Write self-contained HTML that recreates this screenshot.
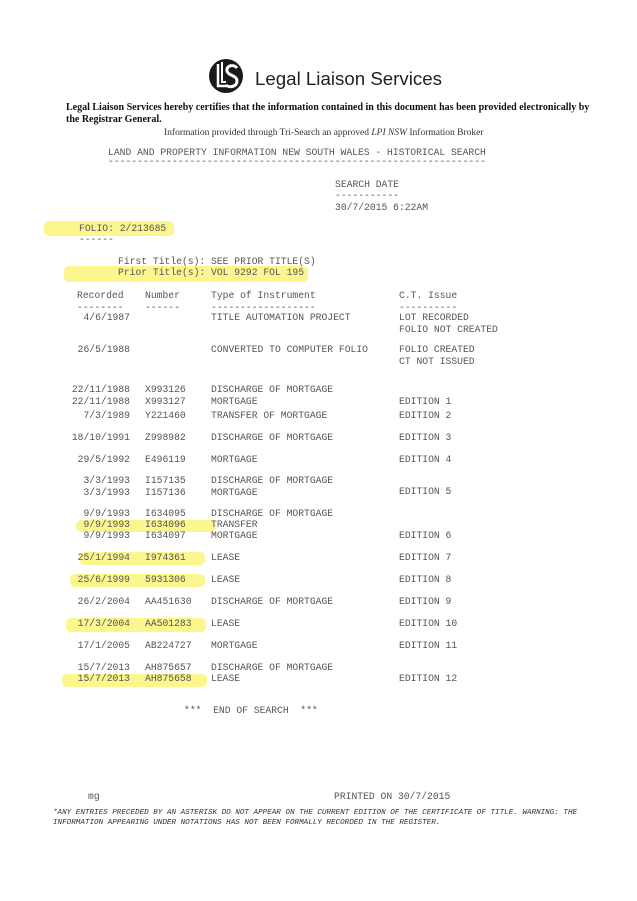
<!DOCTYPE html>
<html><head><meta charset="utf-8"><style>
html,body{margin:0;padding:0;background:#fff;}
body{width:637px;height:901px;position:relative;overflow:hidden;}
.m{position:absolute;font-family:"Liberation Mono",monospace;font-size:9.7px;line-height:12px;color:#555;white-space:pre;}
.r{text-align:right;}
.h{position:absolute;background:#fbf47a;opacity:.85;border-radius:5px;}
.s{position:absolute;font-family:"Liberation Serif",serif;color:#111;white-space:pre;}
</style></head><body>
<!-- highlights -->
<div class="h" style="left:44px;top:221px;width:130px;height:15px"></div>
<div class="h" style="left:64px;top:266px;width:244px;height:16px"></div>
<div class="h" style="left:76px;top:520px;width:140px;height:12px"></div>
<div class="h" style="left:80px;top:552px;width:125px;height:13px"></div>
<div class="h" style="left:70px;top:574px;width:135px;height:13px"></div>
<div class="h" style="left:66px;top:618px;width:140px;height:14px"></div>
<div class="h" style="left:62px;top:674px;width:145px;height:13px"></div>

<!-- logo -->
<svg style="position:absolute;left:206px;top:58px" width="40" height="36" viewBox="0 0 40 36">
<circle cx="20" cy="18" r="17" fill="#1a1a1a"/>
<path d="M12 6 V28 H22" stroke="#fff" stroke-width="2.5" fill="none"/>
<path d="M16 4 V24 H20" stroke="#fff" stroke-width="2" fill="none"/>
<path d="M31 10 C28 6 20 7 21 13 C22 18 31 17 31 23 C31 29 23 30 20 27" stroke="#fff" stroke-width="3" fill="none"/>
</svg>
<div style="position:absolute;left:255px;top:67px;font-family:'Liberation Sans',sans-serif;font-size:18.7px;line-height:24px;color:#222;">Legal Liaison Services</div>

<div class="s" style="left:66px;top:102px;font-size:10px;font-weight:bold;line-height:12px">Legal Liaison Services hereby certifies that the information contained in this document has been provided electronically by
the Registrar General.</div>
<div class="s" style="left:164px;top:127px;font-size:9.5px;line-height:12px;color:#333">Information provided through Tri-Search an approved <i>LPI NSW</i> Information Broker</div>

<div class="m" style="left:108px;top:147px">LAND AND PROPERTY INFORMATION NEW SOUTH WALES - HISTORICAL SEARCH</div>
<div class="m" style="left:108px;top:156px">-----------------------------------------------------------------</div>

<div class="m" style="left:335px;top:179px">SEARCH DATE</div>
<div class="m" style="left:335px;top:190px">-----------</div>
<div class="m" style="left:335px;top:202px">30/7/2015 6:22AM</div>

<div class="m" style="left:79px;top:223px">FOLIO: 2/213685</div>
<div class="m" style="left:79px;top:234px">------</div>

<div class="m" style="left:118px;top:256px">First Title(s): SEE PRIOR TITLE(S)</div>
<div class="m" style="left:118px;top:267px">Prior Title(s): VOL 9292 FOL 195</div>

<div class="m" style="left:77px;top:290px">Recorded
--------</div>
<div class="m" style="left:145px;top:290px">Number
------</div>
<div class="m" style="left:211px;top:290px">Type of Instrument
------------------</div>
<div class="m" style="left:399px;top:290px">C.T. Issue
----------</div>

<div class="m r" style="left:60px;width:70px;top:312px">4/6/1987</div>
<div class="m" style="left:211px;top:312px">TITLE AUTOMATION PROJECT</div>
<div class="m" style="left:399px;top:312px">LOT RECORDED
FOLIO NOT CREATED</div>

<div class="m r" style="left:60px;width:70px;top:344px">26/5/1988</div>
<div class="m" style="left:211px;top:344px">CONVERTED TO COMPUTER FOLIO</div>
<div class="m" style="left:399px;top:344px">FOLIO CREATED
CT NOT ISSUED</div>

<div class="m r" style="left:60px;width:70px;top:384px">22/11/1988
22/11/1988</div>
<div class="m" style="left:145px;top:384px">X993126
X993127</div>
<div class="m" style="left:211px;top:384px">DISCHARGE OF MORTGAGE
MORTGAGE</div>
<div class="m" style="left:399px;top:396px">EDITION 1</div>

<div class="m r" style="left:60px;width:70px;top:410px">7/3/1989</div>
<div class="m" style="left:145px;top:410px">Y221460</div>
<div class="m" style="left:211px;top:410px">TRANSFER OF MORTGAGE</div>
<div class="m" style="left:399px;top:410px">EDITION 2</div>

<div class="m r" style="left:60px;width:70px;top:432px">18/10/1991</div>
<div class="m" style="left:145px;top:432px">Z998982</div>
<div class="m" style="left:211px;top:432px">DISCHARGE OF MORTGAGE</div>
<div class="m" style="left:399px;top:432px">EDITION 3</div>

<div class="m r" style="left:60px;width:70px;top:454px">29/5/1992</div>
<div class="m" style="left:145px;top:454px">E496119</div>
<div class="m" style="left:211px;top:454px">MORTGAGE</div>
<div class="m" style="left:399px;top:454px">EDITION 4</div>

<div class="m r" style="left:60px;width:70px;top:475px">3/3/1993
3/3/1993</div>
<div class="m" style="left:145px;top:475px">I157135
I157136</div>
<div class="m" style="left:211px;top:475px">DISCHARGE OF MORTGAGE
MORTGAGE</div>
<div class="m" style="left:399px;top:486px">EDITION 5</div>

<div class="m r" style="left:60px;width:70px;top:508px;line-height:11px">9/9/1993
9/9/1993
9/9/1993</div>
<div class="m" style="left:145px;top:508px;line-height:11px">I634095
I634096
I634097</div>
<div class="m" style="left:211px;top:508px;line-height:11px">DISCHARGE OF MORTGAGE
TRANSFER
MORTGAGE</div>
<div class="m" style="left:399px;top:530px">EDITION 6</div>

<div class="m r" style="left:60px;width:70px;top:552px">25/1/1994</div>
<div class="m" style="left:145px;top:552px">I974361</div>
<div class="m" style="left:211px;top:552px">LEASE</div>
<div class="m" style="left:399px;top:552px">EDITION 7</div>

<div class="m r" style="left:60px;width:70px;top:574px">25/6/1999</div>
<div class="m" style="left:145px;top:574px">5931306</div>
<div class="m" style="left:211px;top:574px">LEASE</div>
<div class="m" style="left:399px;top:574px">EDITION 8</div>

<div class="m r" style="left:60px;width:70px;top:596px">26/2/2004</div>
<div class="m" style="left:145px;top:596px">AA451630</div>
<div class="m" style="left:211px;top:596px">DISCHARGE OF MORTGAGE</div>
<div class="m" style="left:399px;top:596px">EDITION 9</div>

<div class="m r" style="left:60px;width:70px;top:618px">17/3/2004</div>
<div class="m" style="left:145px;top:618px">AA501283</div>
<div class="m" style="left:211px;top:618px">LEASE</div>
<div class="m" style="left:399px;top:618px">EDITION 10</div>

<div class="m r" style="left:60px;width:70px;top:640px">17/1/2005</div>
<div class="m" style="left:145px;top:640px">AB224727</div>
<div class="m" style="left:211px;top:640px">MORTGAGE</div>
<div class="m" style="left:399px;top:640px">EDITION 11</div>

<div class="m r" style="left:60px;width:70px;top:662px;line-height:11px">15/7/2013
15/7/2013</div>
<div class="m" style="left:145px;top:662px;line-height:11px">AH875657
AH875658</div>
<div class="m" style="left:211px;top:662px;line-height:11px">DISCHARGE OF MORTGAGE
LEASE</div>
<div class="m" style="left:399px;top:673px">EDITION 12</div>

<div class="m" style="left:184px;top:705px">***  END OF SEARCH  ***</div>

<div class="m" style="left:88px;top:791px">mg</div>
<div class="m" style="left:334px;top:791px">PRINTED ON 30/7/2015</div>

<div class="m" style="left:53px;top:808px;font-size:7.6px;line-height:10px;font-style:italic;color:#333">*ANY ENTRIES PRECEDED BY AN ASTERISK DO NOT APPEAR ON THE CURRENT EDITION OF THE CERTIFICATE OF TITLE. WARNING: THE
INFORMATION APPEARING UNDER NOTATIONS HAS NOT BEEN FORMALLY RECORDED IN THE REGISTER.</div>
</body></html>
